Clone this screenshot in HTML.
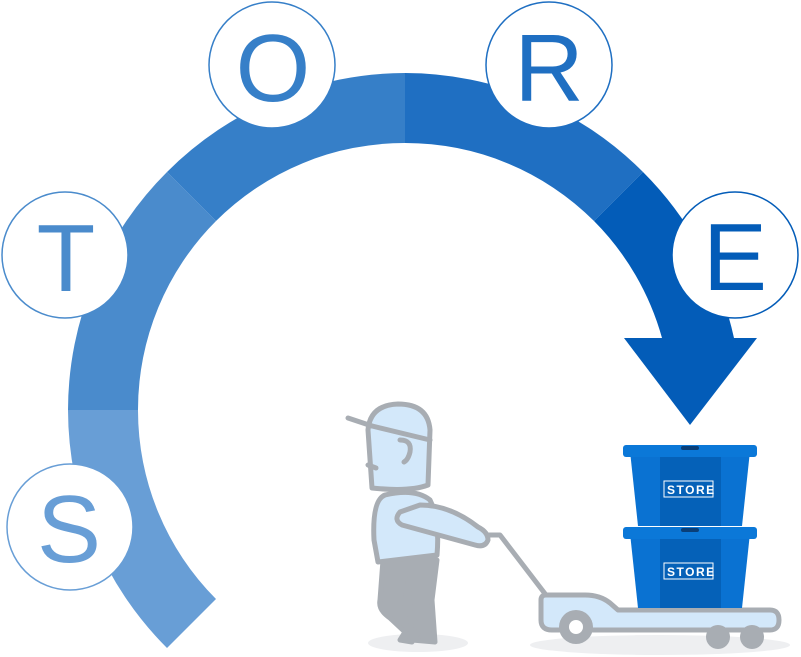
<!DOCTYPE html>
<html><head><meta charset="utf-8"><style>html,body{margin:0;padding:0;background:#fff}svg{display:block}</style></head>
<body>
<svg width="801" height="657" viewBox="0 0 801 657" xmlns="http://www.w3.org/2000/svg">
<!-- arc segments: center (405,410), Ro=337, Ri=267 -->
<path d="M68,410 A337,337 0 0 0 167,648 L216,599 A267,267 0 0 1 138,410 Z" fill="#689ed6"/>
<path d="M167,172 A337,337 0 0 0 68,410 L138,410 A267,267 0 0 1 216,221 Z" fill="#4a8bcc"/>
<path d="M405,73 A337,337 0 0 0 167,172 L216,221 A267,267 0 0 1 405,143 Z" fill="#367fc8"/>
<path d="M643,172 A337,337 0 0 0 405,73 L405,143 A267,267 0 0 1 594,221 Z" fill="#1f6fc2"/>
<path d="M734,338 A337,337 0 0 0 643,172 L594,221 A267,267 0 0 1 662,338 Z" fill="#035cb8"/>
<polygon points="624,338 757,338 690,425" fill="#035cb8"/>
<!-- circles -->
<g fill="#fff" stroke-width="1.5">
<circle cx="65" cy="255" r="63" stroke="#4a8bcc"/>
<circle cx="70" cy="527" r="63" stroke="#689ed6"/>
<circle cx="272" cy="65" r="63" stroke="#367fc8"/>
<circle cx="549" cy="65" r="63" stroke="#1f6fc2"/>
<circle cx="735" cy="255" r="63" stroke="#035cb8"/>
</g>
<g font-family="Liberation Sans, sans-serif" font-size="96" text-anchor="middle">
<text x="66" y="291" fill="#4a8bcc">T</text>
<text x="69" y="562" fill="#689ed6">S</text>
<text x="273" y="101" fill="#367fc8">O</text>
<text x="549" y="101" fill="#1f6fc2">R</text>
<text x="735" y="290" fill="#035cb8">E</text>
</g>
<!-- shadows -->
<ellipse cx="418" cy="643" rx="50" ry="9" fill="#eeeff1"/>
<ellipse cx="660" cy="645" rx="130" ry="10" fill="#eeeff1"/>
<!-- cart -->
<g stroke="#a8adb3" stroke-width="5" stroke-linecap="round" stroke-linejoin="round">
<polyline points="487,535 500,535 546,595" fill="none"/>
<path d="M546,595 L585,595 Q600,595 610,603 L618,610 L770,610 Q779,610 779,620 Q779,630 770,630 L552,630 Q541,630 541,620 L541,600 Q541,595 546,595 Z" fill="#d3e8fa"/>
</g>
<circle cx="576" cy="627" r="17" fill="#a8adb3"/>
<circle cx="576" cy="627" r="7" fill="#fff"/>
<circle cx="718" cy="637" r="12" fill="#a8adb3"/>
<circle cx="752" cy="637" r="12" fill="#a8adb3"/>
<!-- man -->
<g stroke="#a8adb3" stroke-width="5" stroke-linecap="round" stroke-linejoin="round">
<path d="M383,560 L380,600 Q378,610 390,618 L405,632 L400,640 L412,642 L420,630 L405,605 L408,580 L412,640 L435,642 L432,600 L437,560 Z" fill="#a8adb3"/>
<path d="M385,495 Q372,500 374,540 L378,562 L437,555 Q440,520 430,500 Q415,488 385,495 Z" fill="#d3e8fa"/>
<path d="M372,488 L368,430 Q370,405 398,404 Q428,404 430,430 L428,485 Q410,492 372,488 Z" fill="#d3e8fa"/>
<path d="M368,425 L430,440" fill="none"/>
<path d="M348,418 L372,426" fill="none"/>
<path d="M400,440 Q412,440 410,452 Q408,460 404,462" fill="none"/>
<path d="M368,465 L376,468" fill="none"/>
<path d="M400,512 Q393,520 402,525 L475,545 Q485,548 488,540 Q488,532 478,527 Q450,505 420,505 Z" fill="#d3e8fa"/>
</g>
<!-- boxes -->
<g>
<path d="M630,533 L750,533 L742,608 L638,608 Z" fill="#0a72d2"/>
<rect x="660" y="536" width="61" height="72" fill="#0561b8"/>
<rect x="623" y="527" width="134" height="12" rx="3" fill="#0b78d8"/>
<rect x="681" y="528" width="18" height="4" rx="2" fill="#0a3f78"/>
<path d="M630,451 L750,451 L742,526 L638,526 Z" fill="#0a72d2"/>
<rect x="660" y="454" width="61" height="72" fill="#0561b8"/>
<rect x="623" y="445" width="134" height="12" rx="3" fill="#0b78d8"/>
<rect x="681" y="446" width="18" height="4" rx="2" fill="#0a3f78"/>
<rect x="664" y="481" width="49" height="16" fill="none" stroke="#fff" stroke-width="1"/>
<rect x="664" y="563" width="49" height="16" fill="none" stroke="#fff" stroke-width="1"/>
<g font-family="Liberation Sans, sans-serif" font-size="12" font-weight="bold" fill="#fff" letter-spacing="1.5">
<text x="667" y="494">STORE</text>
<text x="667" y="576">STORE</text>
</g>
</g>
</svg>
</body></html>
